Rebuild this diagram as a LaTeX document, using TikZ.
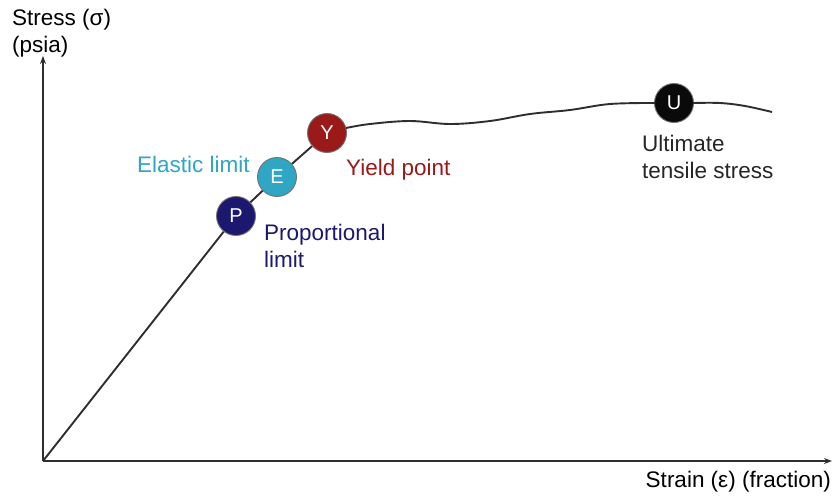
\documentclass[tikz,border=0pt]{standalone}
\usepackage{fontspec}
\setmainfont{Liberation Sans}
\usetikzlibrary{arrows.meta}
\definecolor{pcol}{HTML}{1C1870}
\definecolor{ecol}{HTML}{2EA6C4}
\definecolor{ycol}{HTML}{9A1A1A}
\definecolor{ucol}{HTML}{0A0A0A}
\definecolor{lcol}{HTML}{2E2E2E}
\begin{document}
\begin{tikzpicture}[x=1pt,y=-1pt,
  axis/.style={draw=lcol,line width=1.6pt,-{Stealth[length=8pt,width=6pt]}},
  curve/.style={draw=lcol,line width=1.9pt},
  dot/.style={circle,minimum size=39pt,inner sep=0pt,draw=black!55,line width=0.9pt,text=white,font=\fontsize{20}{24}\selectfont},
  lab/.style={font=\fontsize{22.5}{27}\selectfont,align=left,inner sep=0pt,anchor=west},
]
\useasboundingbox (0,0) rectangle (833,498);
\coordinate (O) at (43,461);
\coordinate (ytop) at (43,56);
\coordinate (xend) at (832,461);
\draw[axis] (O) -- (ytop);
\draw[axis] (O) -- (xend);
\node[dot,fill=pcol] (P) at (236,216) {P};
\node[dot,fill=ecol] (E) at (277,177) {E};
\node[dot,fill=ycol] (Y) at (327,133) {Y};
\node[dot,fill=ucol] (U) at (674,103) {U};
\draw[curve] (O) -- (P);
\draw[curve] (P) -- (E);
\draw[curve] (E) -- (Y);
\draw[curve] plot[smooth,tension=0.6] coordinates {(346,128) (370,124) (410,121) (450,124) (490,121) (530,114) (570,110) (610,104) (655,103)};
\draw[curve] plot[smooth,tension=0.6] coordinates {(693,103) (720,103) (745,106) (772,112)};
\node[lab] (sy) at (12,20) {Stress (σ)};
\node[lab] (sy2) at (12,47) {(psia)};
\node[lab,anchor=east] (sx) at (831,482) {Strain (ε) (fraction)};
\node[lab,text=ecol] (le) at (137,164) {Elastic limit};
\node[lab,text=ycol] (ly) at (346,170) {Yield point};
\node[lab,text=pcol,align=left] (lp) at (264,246) {Proportional\\limit};
\node[lab,text=black!85] (lu) at (642,157) {Ultimate\\tensile stress};
\end{tikzpicture}
\end{document}
